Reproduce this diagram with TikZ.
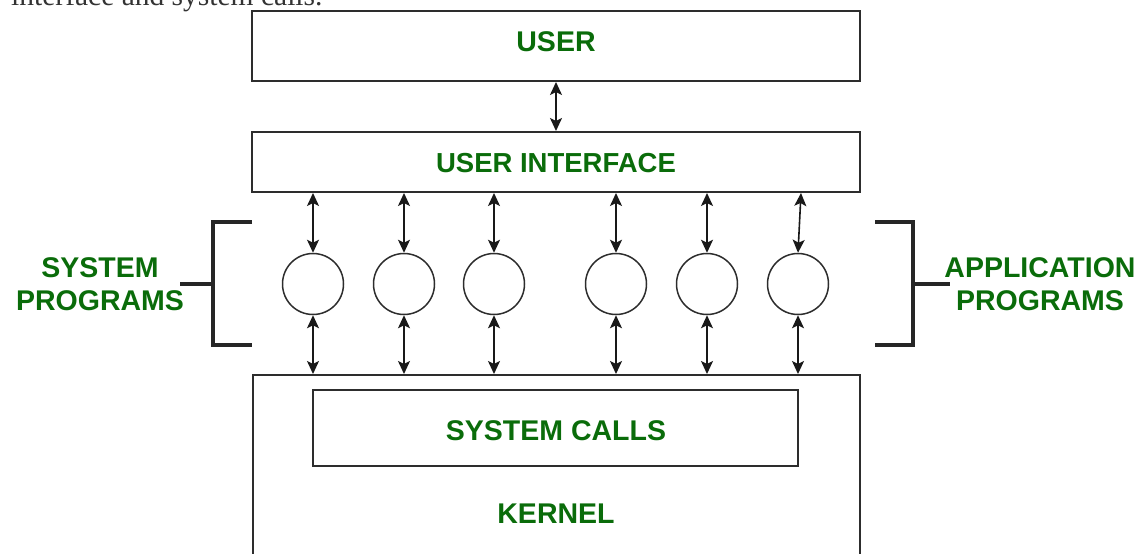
\documentclass[tikz,border=0pt]{standalone}
\usepackage{fontspec}
\setmainfont{Liberation Sans}
\newfontfamily\seriffont{Liberation Serif}
\usetikzlibrary{arrows.meta}
\definecolor{gfggreen}{RGB}{10,108,10}
\definecolor{boxline}{RGB}{45,45,45}
\begin{document}
\begin{tikzpicture}[x=1pt,y=-1pt,
  box/.style={draw=boxline,line width=2pt,inner sep=0pt,fill=none},
  lbl/.style={text=gfggreen,font=\fontsize{28.5}{33}\selectfont\bfseries,inner sep=0pt},
  proc/.style={circle,draw=boxline,line width=1.5pt,minimum size=61pt,inner sep=0pt},
  tip/.tip={Stealth[length=13pt,width=12pt,inset=3pt]},
  biarrow/.style={line width=1.6pt,draw=black!90,{tip}-{tip}},
  bracket/.style={line width=3.2pt,draw=black!85}]
\useasboundingbox (0,0) rectangle (1146,554);
\clip (0,0) rectangle (1146,554);
% cut-off caption line
\node[anchor=base west,inner sep=0pt,text=black!80,font=\seriffont\fontsize{29.5}{33}\selectfont] (cap) at (11,5.5) {interface and system calls.};
% boxes
\node[box,minimum width=608pt,minimum height=70pt] (user) at (556,46) {};
\node[lbl,anchor=base] (usert) at (556,51) {USER};
\node[box,minimum width=608pt,minimum height=60pt] (ui) at (556,162) {};
\node[lbl,anchor=base,font=\fontsize{27.5}{33}\selectfont\bfseries] (uit) at (556,172.5) {USER INTERFACE};
\node[box,minimum width=607pt,minimum height=260pt] (kernel) at (556.5,505) {};
\node[box,minimum width=485pt,minimum height=76pt] (sc) at (555.5,428) {};
\node[lbl,anchor=base] (sct) at (556,440) {SYSTEM CALLS};
\node[lbl,anchor=base] (kt) at (556,523) {KERNEL};
% processes
\foreach \i/\x in {1/313,2/404,3/494,4/616,5/707,6/798}{
  \node[proc] (c\i) at (\x,284) {};
}
\draw[biarrow] (user.south) -- (ui.north);
\foreach \i in {1,...,5}{
  \draw[biarrow] (ui.south -| c\i) -- (c\i.north);
  \draw[biarrow] (c\i.south) -- (kernel.north -| c\i);
}
\draw[biarrow] ([xshift=3pt]ui.south -| c6) -- (c6.north);
\draw[biarrow] (c6.south) -- (kernel.north -| c6);
% brackets
\coordinate (lb1) at (252,222); \coordinate (lb2) at (213,222);
\coordinate (lb3) at (213,345); \coordinate (lb4) at (252,345);
\coordinate (lbm) at (213,284); \coordinate (lbt) at (180,284);
\draw[bracket] (lb1) -- (lb2) -- (lb3) -- (lb4);
\draw[bracket] (lbm) -- (lbt);
\coordinate (rb1) at (875,222); \coordinate (rb2) at (913,222);
\coordinate (rb3) at (913,345); \coordinate (rb4) at (875,345);
\coordinate (rbm) at (913,284); \coordinate (rbt) at (950,284);
\draw[bracket] (rb1) -- (rb2) -- (rb3) -- (rb4);
\draw[bracket] (rbm) -- (rbt);
\node[lbl,align=center] (sp) at (100,284.5) {SYSTEM\\PROGRAMS};
\node[lbl,align=center] (ap) at (1040,284.5) {APPLICATION\\PROGRAMS};
\end{tikzpicture}
\end{document}
